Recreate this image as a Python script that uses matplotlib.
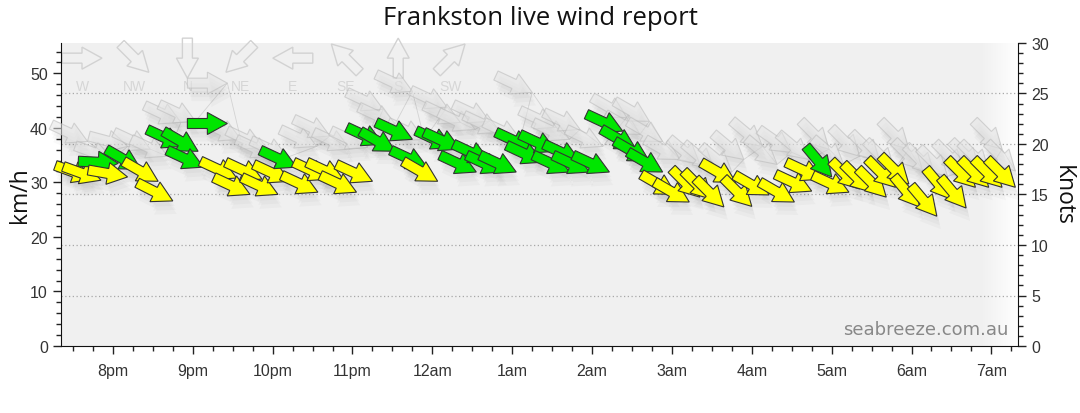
import datetime as dt
import numpy as np
import matplotlib
matplotlib.use("Agg")
import matplotlib.pyplot as plt
import matplotlib.dates as mdates
from matplotlib.patches import Polygon
from matplotlib.transforms import Affine2D, ScaledTranslation
from matplotlib.ticker import MultipleLocator, FuncFormatter

KMH_PER_KNOT = 1.852

# average wind: time, speed (km/h), direction it blows from (deg), colour band
obs_time = ["19:45", "19:51", "20:04", "20:11", "20:21", "20:34", "20:45", "20:53",
            "21:04", "21:08", "21:26", "21:33", "21:43", "21:52", "22:04", "22:13",
            "22:18", "22:34", "22:43", "22:53", "23:03", "23:15", "23:23", "23:32",
            "23:45", "23:56", "00:04", "00:15", "00:21", "00:33", "00:43", "00:53",
            "01:03", "01:15", "01:23", "01:33", "01:43", "01:51", "01:58", "02:13",
            "02:23", "02:33", "02:43", "02:53", "03:03", "03:13", "03:21", "03:30",
            "03:39", "03:48", "04:00", "04:13", "04:32", "04:45", "04:53", "05:00",
            "05:13", "05:21", "05:30", "05:41", "05:48", "05:58", "06:06", "06:19",
            "06:30", "06:41", "06:48", "06:58", "07:08", "07:18"]
obs_kmh = [30.6, 30.4, 33.5, 31.0, 32.4, 30.2, 26.6, 36.6,
           35.7, 32.8, 40.8, 30.8, 27.8, 30.6, 27.8, 30.2,
           32.8, 28.2, 30.6, 30.6, 28.2, 30.2, 37.0, 35.7,
           37.9, 32.8, 30.2, 36.4, 36.1, 31.9, 33.9, 31.9,
           31.9, 36.1, 33.7, 35.7, 31.9, 33.9, 31.9, 31.9,
           39.4, 36.1, 33.9, 31.9, 27.8, 26.4, 27.3, 26.9,
           25.5, 30.0, 25.6, 27.7, 26.4, 28.4, 30.6, 31.0,
           28.2, 28.8, 28.2, 27.3, 29.1, 29.7, 25.5, 23.8,
           26.9, 25.3, 29.1, 29.1, 29.1, 29.1]
obs_dir = [290, 290, 273, 280, 300, 300, 297, 295,
           300, 295, 270, 295, 295, 295, 295, 295,
           295, 295, 295, 295, 295, 295, 295, 300,
           295, 295, 300, 295, 295, 295, 295, 295,
           295, 295, 295, 295, 295, 295, 295, 295,
           295, 300, 300, 300, 300, 300, 315, 315,
           315, 300, 315, 300, 300, 295, 295, 320,
           295, 315, 315, 315, 315, 315, 320, 320,
           320, 320, 315, 315, 315, 315]
obs_band = ["y", "y", "g", "y", "g", "y", "y", "g",
            "g", "g", "g", "y", "y", "y", "y", "y",
            "g", "y", "y", "y", "y", "y", "g", "g",
            "g", "g", "y", "g", "g", "g", "g", "g",
            "g", "g", "g", "g", "g", "g", "g", "g",
            "g", "g", "g", "g", "y", "y", "y", "y",
            "y", "y", "y", "y", "y", "y", "y", "g",
            "y", "y", "y", "y", "y", "y", "y", "y",
            "y", "y", "y", "y", "y", "y"]

# gusts
gust_time = ["19:41", "20:00", "20:11", "20:28", "20:41", "20:51", "21:02", "21:26",
             "21:36", "21:53", "22:00", "22:11", "22:33", "22:43", "22:58", "23:11",
             "23:23", "23:32", "23:45", "23:54", "00:11", "00:21", "00:32", "00:43",
             "00:51", "01:06", "01:15", "01:33", "01:43", "01:51", "02:08", "02:26",
             "02:36", "02:43", "02:53", "03:06", "03:21", "03:32", "03:45", "03:54",
             "04:08", "04:19", "04:30", "04:43", "04:58", "05:09", "05:21", "05:36",
             "05:47", "05:58", "06:08", "06:17", "06:27", "06:39", "06:51", "06:58",
             "07:08", "07:18"]
gust_kmh = [37.5, 34.2, 36.6, 36.1, 34.8, 41.0, 41.2, 48.2,
            37.9, 36.4, 34.8, 34.6, 36.6, 38.5, 36.1, 36.4,
            43.4, 40.7, 46.7, 37.9, 43.8, 41.0, 39.7, 41.2,
            39.2, 37.9, 46.5, 40.1, 37.9, 39.7, 36.6, 41.9,
            38.8, 41.2, 37.5, 34.2, 33.3, 32.4, 31.9, 34.2,
            36.6, 33.3, 35.5, 34.2, 36.1, 33.3, 34.8, 33.9,
            32.4, 36.1, 32.4, 31.5, 31.1, 32.1, 32.4, 32.1,
            36.1, 32.1]
gust_dir = [295, 290, 285, 295, 295, 295, 295, 270,
            295, 295, 295, 295, 295, 295, 295, 295,
            295, 295, 295, 295, 295, 295, 295, 295,
            295, 295, 295, 295, 295, 295, 295, 300,
            300, 300, 300, 300, 310, 310, 310, 310,
            310, 310, 305, 310, 315, 310, 315, 315,
            315, 315, 315, 315, 315, 315, 315, 315,
            315, 315]

compass_labels = ["W", "NW", "N", "NE", "E", "SE", "S", "SW"]
compass_dirs = [270, 315, 0, 45, 90, 135, 180, 225]

knot_grid = [5, 10, 15, 20, 25]

band_colours = {"y": "#ffff00", "g": "#00e600"}

base = dt.datetime(2024, 1, 1)


def to_num(hhmm):
    h, m = map(int, hhmm.split(":"))
    d = base + dt.timedelta(hours=h, minutes=m)
    if h < 12:
        d += dt.timedelta(days=1)
    return mdates.date2num(d)


# arrow outline in pixels, tip at the origin, pointing along +x
ARROW = np.array([[0, 0], [-20, 11], [-20, 5], [-40, 5],
                  [-40, -5], [-20, -5], [-20, -11]], dtype=float)


def draw_arrow(ax, x, y, direction, where, shift=(0, 0), **kw):
    ang = -90 - direction
    tr = (Affine2D().rotate_deg(ang).translate(*shift)
          + ScaledTranslation(x, y, where))
    ax.add_patch(Polygon(ARROW, closed=True, transform=tr, clip_on=False, **kw))


def draw_shadow(ax, x, y, direction):
    for dx, dy in [(2, -5), (3, -9), (4, -13)]:
        draw_arrow(ax, x, y, direction, ax.transData, shift=(dx, dy),
                   facecolor="black", edgecolor="none", alpha=0.025, zorder=2)


plt.rcParams["font.family"] = ["Liberation Sans", "DejaVu Sans"]
fig = plt.figure(figsize=(10.8, 4.14), dpi=100)
ax = fig.add_axes([61 / 1080, 1 - 347 / 414, (1018 - 61) / 1080, (347 - 44) / 414])

x0 = to_num("19:21")
x1 = to_num("07:20")
ymax = 30 * KMH_PER_KNOT

ax2 = ax.twinx()
ax2.set_zorder(0)
ax.set_zorder(1)
ax.patch.set_visible(False)
ax2.patch.set_visible(True)
ax2.patch.set_facecolor("#f0f0f0")

# fade to white along the right edge
grad = np.linspace(0, 1, 64).reshape(1, -1)
ax2.imshow(grad, extent=[0.96, 1.0, 0, 1], transform=ax2.transAxes, aspect="auto",
           cmap=matplotlib.colors.LinearSegmentedColormap.from_list("f", ["#f0f0f0", "#ffffff"]),
           zorder=0)
ax2.set_ylim(0, 30)
for k in knot_grid:
    ax2.axhline(k, color="#a8a8a8", linestyle=(0, (1, 2)), lw=0.9, zorder=1)

# gust series
gx = [to_num(t) for t in gust_time]
ax.plot(gx, gust_kmh, color="#b0b0b0", lw=0.6, alpha=0.45, zorder=2)
for x, v, d in zip(gx, gust_kmh, gust_dir):
    draw_shadow(ax, x, v, d)
    draw_arrow(ax, x, v, d, ax.transData, facecolor="#e4e4e4", edgecolor="#b8b8b8",
               lw=0.8, alpha=0.55, zorder=3)

# average wind
for t, v, d, b in zip(obs_time, obs_kmh, obs_dir, obs_band):
    x = to_num(t)
    draw_shadow(ax, x, v, d)
    draw_arrow(ax, x, v, d, ax.transData, facecolor=band_colours[b],
               edgecolor="#333333", lw=0.8, zorder=4)

# compass key at the top left
for i, (lab, d) in enumerate(zip(compass_labels, compass_dirs)):
    cx = (82 - 61 + 52.7 * i) / 957
    ang = -90 - d
    tr = (Affine2D().translate(20, 0).rotate_deg(ang)
          + ScaledTranslation(cx, 0.95, ax.transAxes))
    ax.add_patch(Polygon(ARROW, closed=True, transform=tr, clip_on=False,
                         facecolor="none", edgecolor="#d2d2d2", lw=1.0, zorder=1))
    ax.text(cx, 0.858, lab, transform=ax.transAxes, ha="center", va="center",
            fontsize=10, color="#d6d6d6", zorder=1)

ax.set_xlim(x0, x1)
ax.set_ylim(0, ymax)
ax2.set_xlim(x0, x1)

ax.xaxis.set_major_locator(mdates.HourLocator())
ax.xaxis.set_minor_locator(mdates.MinuteLocator(byminute=[15, 30, 45]))


def hour_fmt(v, pos):
    h = mdates.num2date(v).hour
    return f"{h % 12 or 12}{'am' if h < 12 else 'pm'}"


ax.xaxis.set_major_formatter(FuncFormatter(hour_fmt))
ax.yaxis.set_major_locator(MultipleLocator(10))
ax.yaxis.set_minor_locator(MultipleLocator(2))
ax.tick_params(axis="both", which="major", direction="out", length=6, width=1,
               labelsize=11.5, colors="#222222", labelcolor="#333333")
ax.tick_params(axis="both", which="minor", direction="out", length=3.5, width=1,
               colors="#222222")
ax.tick_params(axis="x", pad=6)
ax.set_ylabel("km/h", fontsize=16.5, family=["Open Sans", "DejaVu Sans"], color="#111111",
              va="center")
ax.yaxis.set_label_coords(-41 / 957, 0.5)

for side in ["top", "right"]:
    ax.spines[side].set_visible(False)
for side in ["left", "bottom"]:
    ax.spines[side].set_color("#111111")

ax2.yaxis.set_major_locator(MultipleLocator(5))
ax2.yaxis.set_minor_locator(MultipleLocator(1))
ax2.tick_params(axis="y", which="major", direction="out", length=6, width=1,
                labelsize=11.5, colors="#222222", labelcolor="#333333")
ax2.tick_params(axis="y", which="minor", direction="out", length=3.5, width=1,
                colors="#222222")
ax2.set_ylabel("Knots", fontsize=16.5, rotation=270, family=["Open Sans", "DejaVu Sans"],
               color="#111111", va="center")
ax2.yaxis.set_label_coords(1 + 45 / 957, 0.5)
for side in ["top", "left", "bottom"]:
    ax2.spines[side].set_visible(False)
ax2.spines["right"].set_color("#111111")

ax.text(0.99, 0.025, "seabreeze.com.au", transform=ax.transAxes, ha="right",
        va="bottom", fontsize=13, color="#888888", family="DejaVu Sans", zorder=5)

fig.suptitle("Frankston live wind report", x=0.5, y=0.985, fontsize=18.5,
             family=["Open Sans", "DejaVu Sans"], color="#111111")

fig.savefig("out.png", dpi=100)
